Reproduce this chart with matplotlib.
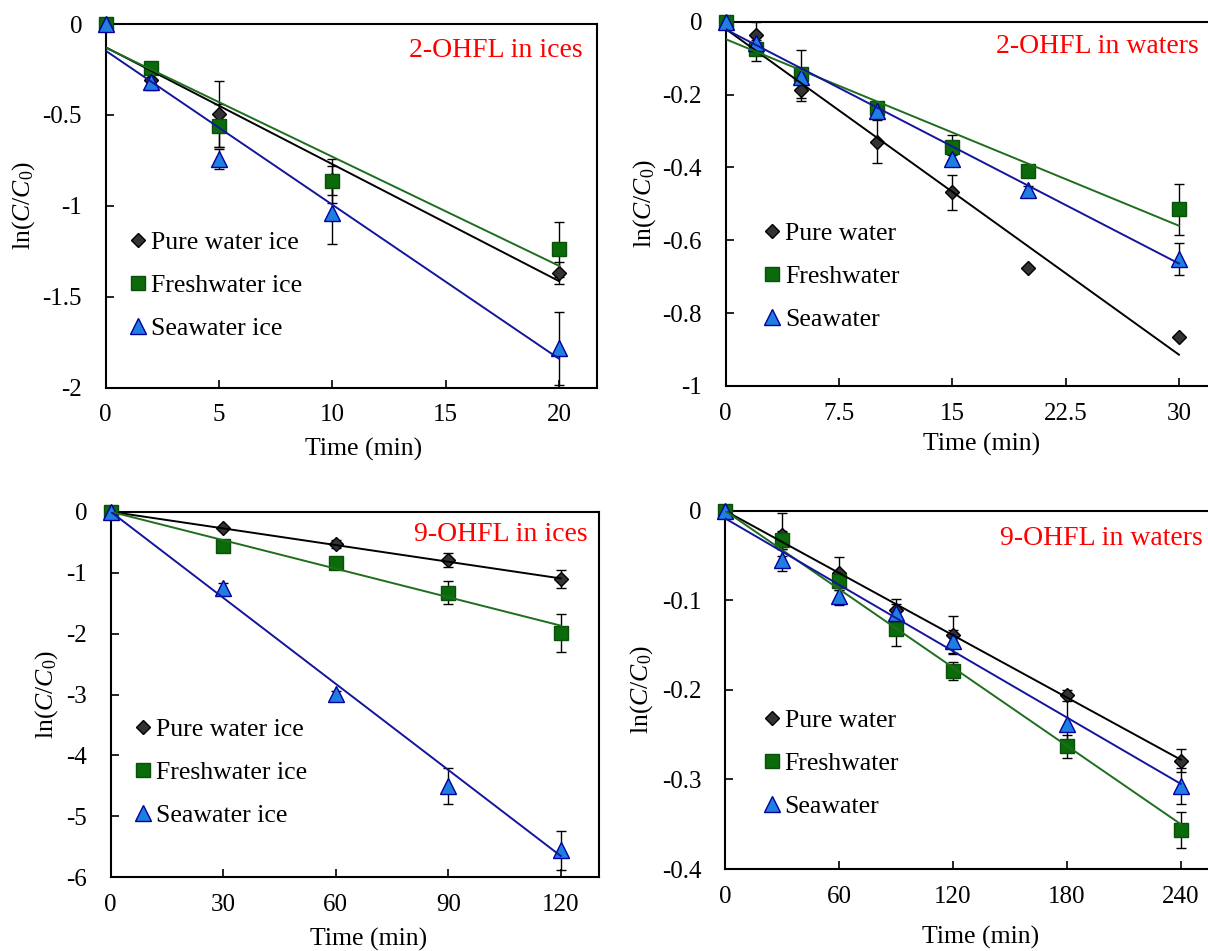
import matplotlib
matplotlib.use("Agg")
import matplotlib.pyplot as plt
import numpy as np
from matplotlib.lines import Line2D

plt.rcParams['font.family'] = ['Liberation Serif', 'DejaVu Serif']
plt.rcParams['mathtext.fontset'] = 'custom'
plt.rcParams['mathtext.rm'] = 'Liberation Serif'
plt.rcParams['mathtext.it'] = 'Liberation Serif:italic'
plt.rcParams['axes.unicode_minus'] = False

# ---- 2-OHFL in ices ----
t_ice2 = [0, 2, 5, 10, 20]
ice2_pure = [0, -0.31, -0.495, -0.86, -1.368]
ice2_pure_err = [0, 0.053, 0.18, 0.08, 0.06]
ice2_fresh = [0, -0.244, -0.559, -0.864, -1.24]
ice2_fresh_err = [0, 0.03, 0.12, 0.12, 0.15]
ice2_sea = [0, -0.317, -0.744, -1.038, -1.784]
ice2_sea_err = [0, 0.04, 0.055, 0.17, 0.2]
ice2_slope = [-0.0643, -0.0600, -0.0847]
ice2_icpt = [-0.128, -0.130, -0.147]

# ---- 2-OHFL in waters ----
t_wat2 = [0, 2, 5, 10, 15, 20, 30]
wat2_pure = [0, -0.037, -0.188, -0.329, -0.468, -0.675, -0.866]
wat2_pure_err = [0, 0.035, 0.03, 0.06, 0.048, 0, 0]
wat2_fresh = [0, -0.075, -0.144, -0.238, -0.345, -0.41, -0.515]
wat2_fresh_err = [0, 0.033, 0.065, 0.01, 0.035, 0.01, 0.07]
wat2_sea = [0, -0.059, -0.151, -0.245, -0.377, -0.462, -0.652]
wat2_sea_err = [0, 0.01, 0.01, 0.01, 0.01, 0.01, 0.044]
wat2_slope = [-0.0298, -0.01707, -0.02143]
wat2_icpt = [-0.020, -0.048, -0.021]

# ---- 9-OHFL in ices ----
t_ice9 = [0, 30, 60, 90, 120]
ice9_pure = [0, -0.273, -0.53, -0.793, -1.11]
ice9_pure_err = [0, 0.03, 0.07, 0.12, 0.15]
ice9_fresh = [0, -0.563, -0.848, -1.33, -1.987]
ice9_fresh_err = [0, 0.05, 0.05, 0.19, 0.31]
ice9_sea = [0, -1.258, -2.993, -4.5, -5.555]
ice9_sea_err = [0, 0.09, 0.05, 0.3, 0.32]
ice9_slope = [-0.009125, -0.01558, -0.04708]
ice9_icpt = [0, 0, 0]

# ---- 9-OHFL in waters ----
t_wat9 = [0, 30, 60, 90, 120, 180, 240]
wat9_pure = [0, -0.027, -0.07, -0.111, -0.139, -0.206, -0.279]
wat9_pure_err = [0, 0.024, 0.018, 0.012, 0.021, 0.006, 0.013]
wat9_fresh = [0, -0.033, -0.078, -0.132, -0.179, -0.263, -0.356]
wat9_fresh_err = [0, 0.01, 0.01, 0.019, 0.01, 0.013, 0.02]
wat9_sea = [0, -0.055, -0.095, -0.114, -0.146, -0.238, -0.307]
wat9_sea_err = [0, 0.012, 0.01, 0.01, 0.013, 0.03, 0.02]
wat9_slope = [-0.001158, -0.001458, -0.001235]
wat9_icpt = [0, 0, -0.0085]

ice_labels = ['Pure water ice', 'Freshwater ice', 'Seawater ice']
water_labels = ['Pure water', 'Freshwater', 'Seawater']

markers = ['D', 's', '^']
msizes = [7.5, 10, 11]
face = ['#333333', '#0b6b0b', '#1f7fe0']
edge = ['#000000', '#0a4f0a', '#0000a0']
line_col = ['#000000', '#1e6e1e', '#14149c']

W, H = 1208, 951


def make_axes(fig, left, top, right, bottom):
    return fig.add_axes([left / W, 1 - bottom / H, (right - left) / W, (bottom - top) / H])


def draw_panel(ax, t, series, errs, slopes, icpts, labels, title,
               xlim, ylim, xticks, yticks, leg_xy, title_xy, ylab_x, xlab_xy):
    t = np.array(t)
    for i in range(3):
        ax.errorbar(t, series[i], yerr=errs[i], fmt='none', ecolor='black',
                    elinewidth=1.0, capsize=3.5, capthick=1.0, zorder=2, clip_on=False)
    for i in range(3):
        ax.plot(t, series[i], linestyle='none', marker=markers[i], markersize=msizes[i],
                markerfacecolor=face[i], markeredgecolor=edge[i], markeredgewidth=1.0,
                zorder=3, clip_on=False)
    for i in range(3):
        xx = np.array([0, t.max()])
        ax.plot(xx, icpts[i] + slopes[i] * xx, color=line_col[i], lw=1.4, zorder=4)

    handles = [Line2D([], [], linestyle='none', marker=markers[i], markersize=msizes[i],
                      markerfacecolor=face[i], markeredgecolor=edge[i])
               for i in range(3)]
    ax.legend(handles, labels, loc='center left', bbox_to_anchor=leg_xy,
              frameon=False, fontsize=18.5, handlelength=0.8, handletextpad=0.1,
              labelspacing=0.78, borderpad=0, borderaxespad=0)

    ax.text(title_xy[0], title_xy[1], title, color='red', fontsize=20,
            ha='right', va='baseline', transform=ax.transAxes)

    ax.set_xlim(xlim)
    ax.set_ylim(ylim)
    ax.set_xticks(xticks)
    ax.set_yticks(yticks)
    ax.set_xticklabels(['%g' % v for v in xticks])
    ax.set_yticklabels(['%g' % v for v in yticks])
    ax.tick_params(direction='in', length=6, width=1.2, labelsize=18)
    ax.tick_params(axis='x', pad=12)
    ax.tick_params(axis='y', pad=17)
    for s in ax.spines.values():
        s.set_linewidth(1.5)

    ax.set_ylabel(r'ln($C$/$C_0$)', fontsize=18.5)
    ax.yaxis.set_label_coords(ylab_x, 0.5)
    ax.set_xlabel('Time (min)', fontsize=18.5)
    ax.xaxis.set_label_coords(xlab_xy[0], xlab_xy[1])


fig = plt.figure(figsize=(W / 100, H / 100), dpi=100)

ax1 = make_axes(fig, 105.7, 24, 596.7, 387.7)
draw_panel(ax1, t_ice2, [ice2_pure, ice2_fresh, ice2_sea],
           [ice2_pure_err, ice2_fresh_err, ice2_sea_err], ice2_slope, ice2_icpt,
           ice_labels, '2-OHFL in ices', (0, 21.66), (-2, 0),
           [0, 5, 10, 15, 20], [0, -0.5, -1, -1.5, -2],
           (0.045, 0.282), (0.9715, 0.909), -0.14, (0.526, -0.1375))

ax2 = make_axes(fig, 725.7, 21.7, 1216.7, 386)
draw_panel(ax2, t_wat2, [wat2_pure, wat2_fresh, wat2_sea],
           [wat2_pure_err, wat2_fresh_err, wat2_sea_err], wat2_slope, wat2_icpt,
           water_labels, '2-OHFL in waters', (0, 32.5), (-1, 0),
           [0, 7.5, 15, 22.5, 30], [0, -0.2, -0.4, -0.6, -0.8, -1],
           (0.074, 0.300), (0.964, 0.913), -0.138, (0.522, -0.129))

ax3 = make_axes(fig, 110.7, 511.7, 599, 877.3)
draw_panel(ax3, t_ice9, [ice9_pure, ice9_fresh, ice9_sea],
           [ice9_pure_err, ice9_fresh_err, ice9_sea_err], ice9_slope, ice9_icpt,
           ice_labels, '9-OHFL in ices', (0, 130.2), (-6, 0),
           [0, 30, 60, 90, 120], [0, -1, -2, -3, -4, -5, -6],
           (0.046, 0.286), (0.976, 0.921), -0.103, (0.529, -0.139))

ax4 = make_axes(fig, 725, 510.7, 1213, 869)
draw_panel(ax4, t_wat9, [wat9_pure, wat9_fresh, wat9_sea],
           [wat9_pure_err, wat9_fresh_err, wat9_sea_err], wat9_slope, wat9_icpt,
           water_labels, '9-OHFL in waters', (0, 257), (-0.4, 0),
           [0, 60, 120, 180, 240], [0, -0.1, -0.2, -0.3, -0.4],
           (0.075, 0.295), (0.980, 0.904), -0.143, (0.523, -0.159))

fig.savefig('out.png', dpi=100)
